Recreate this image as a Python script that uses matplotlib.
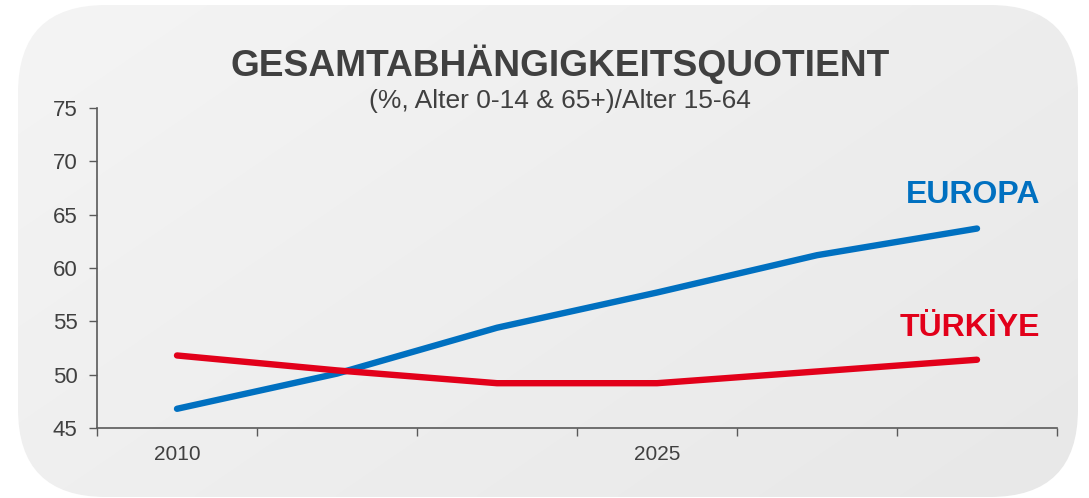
import numpy as np
import matplotlib.pyplot as plt
from matplotlib.patches import FancyBboxPatch

plt.rcParams['font.family'] = ['Liberation Sans', 'DejaVu Sans']

years = [2010, 2015, 2020, 2025, 2030, 2035]
tick_labels = ['2010', '', '', '2025', '', '']
europa = [46.8, 50.1, 54.4, 57.7, 61.2, 63.7]
turkiye = [51.8, 50.4, 49.2, 49.2, 50.3, 51.4]

title = 'GESAMTABHÄNGIGKEITSQUOTIENT'
subtitle = '(%, Alter 0-14 & 65+)/Alter 15-64'

blue = '#0070C0'
red = '#E2001A'
dark = '#404040'
axis_col = '#595959'

W, H = 1089, 498
fig = plt.figure(figsize=(W / 100, H / 100), dpi=100)
fig.patch.set_facecolor('white')

# rounded panel with soft gradient
bg = fig.add_axes([0, 0, 1, 1])
bg.set_xlim(0, W)
bg.set_ylim(H, 0)
bg.axis('off')
gx, gy = np.meshgrid(np.linspace(0, 1, 200), np.linspace(0, 1, 100))
grad = 0.955 - 0.05 * (0.6 * gx + 0.4 * gy)
img = bg.imshow(grad, cmap='gray', vmin=0, vmax=1, extent=[0, W, H, 0],
                aspect='auto', interpolation='bilinear')
panel = FancyBboxPatch((18, 5), 1060, 492, boxstyle='round,pad=0,rounding_size=88',
                       facecolor='none', edgecolor='none', transform=bg.transData)
bg.add_patch(panel)
img.set_clip_path(panel)

ax = fig.add_axes([97 / W, 1 - 428 / H, (1057 - 97) / W, (428 - 108) / H])
ax.patch.set_alpha(0)
x = np.arange(len(years))
ax.plot(x, europa, color=blue, lw=4.6, solid_capstyle='round', solid_joinstyle='round')
ax.plot(x, turkiye, color=red, lw=4.6, solid_capstyle='round', solid_joinstyle='round')

ax.set_xlim(-0.5, len(years) - 0.5)
ax.set_ylim(45, 75)
ax.set_yticks(range(45, 76, 5))
ax.set_xticks(x)
ax.set_xticklabels(tick_labels)
ax.set_xticks(np.arange(-0.5, len(years), 1), minor=True)
ax.tick_params(axis='x', which='major', length=0, pad=12, labelsize=15,
               labelcolor=dark)
ax.tick_params(axis='x', which='minor', length=6, color=axis_col, width=1)
ax.tick_params(axis='y', length=6, color=axis_col, width=1, labelsize=16,
               labelcolor=dark, pad=8)
for s in ['top', 'right']:
    ax.spines[s].set_visible(False)
for s in ['left', 'bottom']:
    ax.spines[s].set_color(axis_col)
    ax.spines[s].set_linewidth(1.2)

fig.text(560 / W, 1 - 64 / H, title, ha='center', va='center', fontsize=26.7,
         fontweight='bold', color=dark)
fig.text(560 / W, 1 - 101 / H, subtitle, ha='center', va='center', fontsize=19,
         color=dark)
ax.text(1040 / W, 1 - 195 / H, 'EUROPA', transform=fig.transFigure, ha='right',
        va='center', fontsize=23, fontweight='bold', color=blue)
ax.text(1040 / W, 1 - 328 / H, 'TÜRKİYE', transform=fig.transFigure, ha='right',
        va='center', fontsize=23, fontweight='bold', color=red)

fig.savefig('out.png', dpi=100)
